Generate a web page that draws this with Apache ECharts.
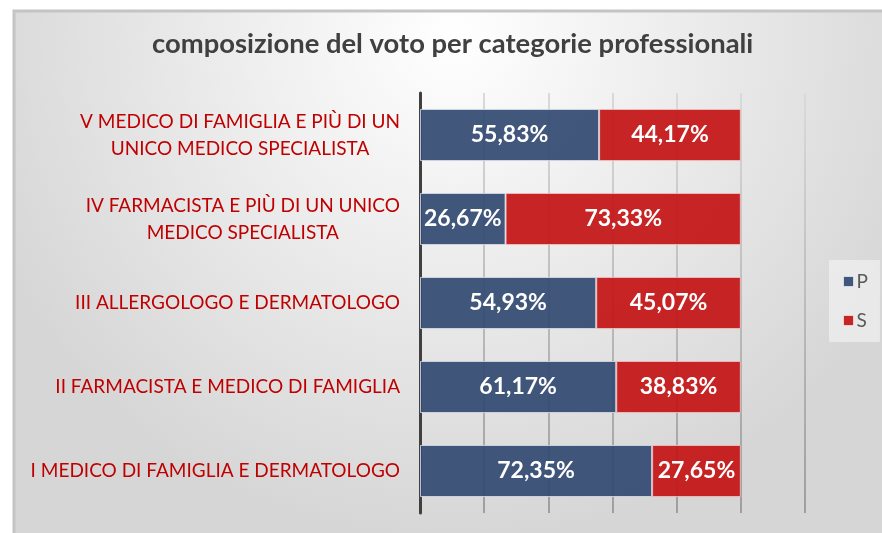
<!DOCTYPE html>
<html>
<head>
<meta charset="utf-8">
<script src="https://cdn.jsdelivr.net/npm/echarts@6/dist/echarts.min.js"></script>
<style>
  html, body { margin: 0; padding: 0; background: #fff; }
  #chart { width: 882px; height: 533px; }
</style>
</head>
<body>
<div id="chart"></div>
<script>
// categories bottom -> top, as the y axis draws them
const categories = [
  'I MEDICO DI FAMIGLIA E DERMATOLOGO',
  'II FARMACISTA E MEDICO DI FAMIGLIA',
  'III ALLERGOLOGO E DERMATOLOGO',
  'IV FARMACISTA E PIÙ DI UN UNICO\nMEDICO SPECIALISTA',
  'V MEDICO DI FAMIGLIA E PIÙ DI UN\nUNICO MEDICO SPECIALISTA'
]
const valuesP = [72.35, 61.17, 54.93, 26.67, 55.83]
const valuesS = [27.65, 38.83, 45.07, 73.33, 44.17]
const seriesNames = ['P', 'S']

let mychart = echarts.init(document.getElementById('chart'))

const fmtPct = p => p.value.toFixed(2).replace('.', ',') + '%'
const barLabel = {
  show: true,
  position: 'inside',
  color: '#fff',
  fontFamily: 'Lato',
  fontWeight: 'bold',
  fontSize: 23,
  formatter: fmtPct
}

let options = {
  backgroundColor: '#ffffff',
  textStyle: { fontFamily: 'Lato' },
  graphic: [
    {
      type: 'rect',
      z: -10,
      silent: true,
      shape: { x: 14, y: 11, width: 880, height: 530 },
      style: {
        fill: {
          type: 'radial', x: 0.5, y: 0.05, r: 0.95,
          colorStops: [
            { offset: 0, color: '#ffffff' },
            { offset: 1, color: '#d6d6d6' }
          ]
        },
        stroke: '#c4c4c4',
        lineWidth: 3
      }
    }
  ],
  title: {
    text: 'composizione del voto per categorie professionali',
    left: 147,
    top: 26,
    textStyle: {
      fontFamily: 'Lato',
      fontWeight: 'bold',
      fontSize: 27.4,
      color: '#404040'
    }
  },
  legend: {
    orient: 'vertical',
    left: 829,
    top: 260,
    padding: [12, 12, 12, 14],
    itemGap: 18,
    itemWidth: 10,
    itemHeight: 10,
    itemGap: 20,
    icon: 'rect',
    backgroundColor: 'rgba(245,245,245,0.6)',
    textStyle: { color: '#595959', fontSize: 19, fontFamily: 'Lato', padding: [0, 0, 0, -2] },
    itemStyle: { borderColor: 'rgba(255,255,255,0.6)', borderWidth: 1 },
    data: seriesNames
  },
  grid: {
    left: 420,
    top: 93,
    width: 385,
    height: 420,
    containLabel: false
  },
  xAxis: {
    type: 'value',
    min: 0,
    max: 120,
    interval: 20,
    axisLabel: { show: false },
    axisLine: { show: false },
    axisTick: { show: false },
    splitLine: {
      lineStyle: {
        width: 2,
        color: {
          type: 'linear', x: 0, y: 0, x2: 0, y2: 1,
          colorStops: [
            { offset: 0, color: '#dadada' },
            { offset: 1, color: '#9e9e9e' }
          ]
        }
      }
    }
  },
  yAxis: {
    type: 'category',
    data: categories,
    axisLine: { lineStyle: { color: '#404040', width: 3 } },
    axisTick: { show: false },
    axisLabel: {
      margin: 20,
      fontFamily: 'Lato',
      fontSize: 19,
      color: '#c00000',
      lineHeight: 27,
      formatter: v => v.split('\n').map(s => '{c|' + s + '}').join('\n'),
      rich: {
        c: { align: 'center', fontFamily: 'Lato', fontSize: 19, color: '#c00000', lineHeight: 27 }
      }
    }
  },
  series: [
    {
      name: seriesNames[0],
      type: 'bar',
      stack: 'total',
      barCategoryGap: '38%',
      data: valuesP,
      itemStyle: { color: 'rgba(52,74,114,0.93)', borderColor: 'rgba(220,225,235,0.8)', borderWidth: 1 },
      label: barLabel
    },
    {
      name: seriesNames[1],
      type: 'bar',
      stack: 'total',
      barCategoryGap: '38%',
      data: valuesS,
      itemStyle: { color: 'rgba(196,20,22,0.93)', borderColor: 'rgba(240,200,200,0.8)', borderWidth: 1 },
      label: barLabel
    }
  ]
}

mychart.setOption(options)
</script>
</body>
</html>
